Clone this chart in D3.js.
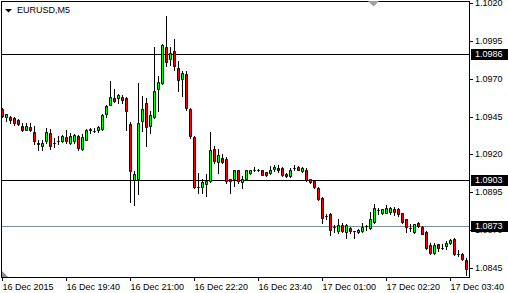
<!DOCTYPE html>
<html>
<head>
<meta charset="utf-8">
<script src="https://cdn.jsdelivr.net/npm/d3@7"></script>
<style>
  html, body { margin: 0; padding: 0; background: #fff; }
  svg { display: block; }
</style>
</head>
<body>
<div id="chart"></div>
<script>
// EURUSD M5 candles, 16 Dec 2015 18:20 .. 17 Dec 2015 04:00
const symbol = "EURUSD,M5";

const opens = [
  1.09502, 1.09447, 1.09449, 1.09443, 1.09425, 1.09390, 1.09364, 1.09384, 1.09349, 1.09276,
  1.09254, 1.09287, 1.09342, 1.09275, 1.09288, 1.09289, 1.09313, 1.09274, 1.09287, 1.09324,
  1.09234, 1.09298, 1.09364, 1.09357, 1.09359, 1.09368, 1.09465, 1.09528, 1.09573, 1.09570,
  1.09581, 1.09573, 1.09403, 1.09030, 1.09035, 1.09418, 1.09540, 1.09386, 1.09446, 1.09632,
  1.09671, 1.09908, 1.09829, 1.09884, 1.09770, 1.09698, 1.09733, 1.09502, 1.09313, 1.08983,
  1.08983, 1.09008, 1.09023, 1.09237, 1.09149, 1.09178, 1.09173, 1.09039, 1.09035, 1.09098,
  1.09019, 1.09041, 1.09079, 1.09100, 1.09097, 1.09096, 1.09083, 1.09079, 1.09107, 1.09112,
  1.09112, 1.09069, 1.09056, 1.09110, 1.09118, 1.09089, 1.09100, 1.09037, 1.09023, 1.08980,
  1.08910, 1.08794, 1.08809, 1.08721, 1.08694, 1.08732, 1.08689, 1.08717, 1.08692, 1.08686,
  1.08694, 1.08728, 1.08717, 1.08756, 1.08834, 1.08811, 1.08815, 1.08822, 1.08842, 1.08837,
  1.08811, 1.08771, 1.08713, 1.08690, 1.08750, 1.08721, 1.08690, 1.08600, 1.08547, 1.08607,
  1.08584, 1.08592, 1.08618, 1.08640, 1.08544, 1.08541, 1.08503
];
const highs = [
  1.09509, 1.09469, 1.09456, 1.09449, 1.09434, 1.09405, 1.09408, 1.09408, 1.09390, 1.09298,
  1.09298, 1.09372, 1.09370, 1.09311, 1.09320, 1.09326, 1.09364, 1.09342, 1.09335, 1.09331,
  1.09333, 1.09368, 1.09372, 1.09372, 1.09390, 1.09469, 1.09528, 1.09682, 1.09634, 1.09596,
  1.09594, 1.09578, 1.09412, 1.09089, 1.09675, 1.09588, 1.09575, 1.09484, 1.09912, 1.09715,
  1.09928, 1.10114, 1.09912, 1.09963, 1.09814, 1.09748, 1.09754, 1.09509, 1.09322, 1.09079,
  1.09041, 1.09068, 1.09346, 1.09254, 1.09237, 1.09204, 1.09180, 1.09041, 1.09100, 1.09100,
  1.09056, 1.09100, 1.09100, 1.09114, 1.09105, 1.09098, 1.09085, 1.09122, 1.09133, 1.09133,
  1.09114, 1.09079, 1.09112, 1.09129, 1.09122, 1.09116, 1.09112, 1.09041, 1.09028, 1.08987,
  1.08921, 1.08809, 1.08814, 1.08732, 1.08771, 1.08750, 1.08738, 1.08721, 1.08694, 1.08705,
  1.08750, 1.08734, 1.08819, 1.08870, 1.08848, 1.08842, 1.08863, 1.08855, 1.08855, 1.08844,
  1.08815, 1.08776, 1.08738, 1.08743, 1.08756, 1.08727, 1.08694, 1.08618, 1.08618, 1.08611,
  1.08607, 1.08628, 1.08640, 1.08646, 1.08567, 1.08547, 1.08519
];
const lows = [
  1.09449, 1.09418, 1.09410, 1.09395, 1.09395, 1.09357, 1.09359, 1.09357, 1.09270, 1.09232,
  1.09228, 1.09276, 1.09237, 1.09250, 1.09272, 1.09280, 1.09276, 1.09272, 1.09276, 1.09232,
  1.09230, 1.09293, 1.09339, 1.09346, 1.09351, 1.09364, 1.09447, 1.09527, 1.09546, 1.09540,
  1.09540, 1.09364, 1.08883, 1.08865, 1.08936, 1.09357, 1.09254, 1.09342, 1.09440, 1.09484,
  1.09667, 1.09781, 1.09792, 1.09759, 1.09616, 1.09583, 1.09496, 1.09309, 1.08979, 1.08942,
  1.08942, 1.08925, 1.09017, 1.09145, 1.09079, 1.09145, 1.09013, 1.08947, 1.08990, 1.09013,
  1.08980, 1.09035, 1.09068, 1.09092, 1.09089, 1.09061, 1.09056, 1.09068, 1.09089, 1.09087,
  1.09056, 1.09052, 1.09050, 1.09096, 1.09094, 1.09083, 1.09023, 1.09013, 1.08980, 1.08898,
  1.08745, 1.08776, 1.08668, 1.08690, 1.08684, 1.08688, 1.08651, 1.08684, 1.08651, 1.08679,
  1.08690, 1.08699, 1.08710, 1.08750, 1.08804, 1.08804, 1.08811, 1.08804, 1.08798, 1.08793,
  1.08750, 1.08688, 1.08694, 1.08684, 1.08723, 1.08672, 1.08574, 1.08541, 1.08541, 1.08563,
  1.08574, 1.08578, 1.08607, 1.08536, 1.08530, 1.08503, 1.08403
];
const closes = [
  1.09456, 1.09465, 1.09430, 1.09405, 1.09399, 1.09362, 1.09390, 1.09359, 1.09289, 1.09267,
  1.09278, 1.09349, 1.09254, 1.09275, 1.09288, 1.09322, 1.09287, 1.09324, 1.09326, 1.09245,
  1.09313, 1.09362, 1.09368, 1.09357, 1.09382, 1.09463, 1.09522, 1.09581, 1.09555, 1.09592,
  1.09557, 1.09487, 1.09089, 1.09068, 1.09408, 1.09502, 1.09384, 1.09463, 1.09617, 1.09680,
  1.09923, 1.09812, 1.09869, 1.09781, 1.09693, 1.09737, 1.09505, 1.09320, 1.08985, 1.08983,
  1.09018, 1.09023, 1.09232, 1.09155, 1.09193, 1.09151, 1.09023, 1.09023, 1.09094, 1.09023,
  1.09041, 1.09094, 1.09096, 1.09100, 1.09097, 1.09063, 1.09063, 1.09100, 1.09118, 1.09094,
  1.09063, 1.09056, 1.09100, 1.09110, 1.09096, 1.09112, 1.09028, 1.09017, 1.08987, 1.08903,
  1.08778, 1.08794, 1.08699, 1.08721, 1.08734, 1.08694, 1.08732, 1.08694, 1.08692, 1.08702,
  1.08721, 1.08728, 1.08771, 1.08848, 1.08834, 1.08837, 1.08848, 1.08848, 1.08819, 1.08804,
  1.08753, 1.08721, 1.08713, 1.08738, 1.08727, 1.08677, 1.08585, 1.08552, 1.08600, 1.08585,
  1.08584, 1.08613, 1.08633, 1.08541, 1.08544, 1.08508, 1.08442
];

const priceTicks = [1.1020, 1.0995, 1.0970, 1.0945, 1.0920, 1.0895, 1.0870, 1.0845];
const timeTickLabels = ["16 Dec 2015", "16 Dec 19:40", "16 Dec 21:00", "16 Dec 22:20",
                        "16 Dec 23:40", "17 Dec 01:00", "17 Dec 02:20", "17 Dec 03:40"];
const levels = [1.0986, 1.0903, 1.0873];

const levelColors = ["#000000", "#000000", "#7b8c9c"];
const upColor = "#00ff00", downColor = "#ff0000";
const font = "'Liberation Sans', Arial, sans-serif";

const W = 508, H = 293;
const plotRight = 469, plotBottom = 278;

const start = new Date(2015, 11, 16, 18, 20);
const times = d3.timeMinute.every(5).range(start, d3.timeMinute.offset(start, 5 * opens.length));
const tickTimes = times.filter((d, i) => i % 16 === 0);

const bars = times.map((t, i) => ({t: t, o: opens[i], h: highs[i], l: lows[i], c: closes[i]}));

const svg = d3.select("#chart").append("svg")
    .attr("width", W)
    .attr("height", H);

svg.append("rect").attr("width", W).attr("height", H).attr("fill", "#fff");

const x = d3.scaleBand().domain(times).range([0, plotRight - 1]);
const y = d3.scaleLinear().domain([1.0845, 1.1020]).range([268, 3]);
const cx = d => x(d) + x.bandwidth() / 2 + 0.5;
const py = v => Math.round(y(v)) + 0.5;

// level lines
svg.append("g").selectAll("line")
    .data(levels)
    .enter().append("line")
    .attr("x1", 2).attr("x2", plotRight)
    .attr("y1", d => py(d)).attr("y2", d => py(d))
    .attr("stroke", (d, i) => levelColors[i])
    .attr("stroke-width", 1);

// candles
const candle = svg.append("g").selectAll("g")
    .data(bars)
    .enter().append("g");

candle.append("line")
    .attr("x1", d => cx(d.t)).attr("x2", d => cx(d.t))
    .attr("y1", d => Math.round(y(d.h)))
    .attr("y2", d => Math.round(y(d.l)) + 1)
    .attr("stroke", "#000")
    .attr("stroke-width", 1);

candle.append("path")
    .attr("d", d => {
        const top = py(Math.max(d.o, d.c)), bot = py(Math.min(d.o, d.c));
        const c = cx(d.t);
        return "M" + (c - 1) + "," + top + "H" + (c + 1) + "V" + bot + "H" + (c - 1) + "Z";
    })
    .attr("fill", d => d.c >= d.o ? upColor : downColor)
    .attr("stroke", "#000")
    .attr("stroke-width", 1);

// frame
const frame = svg.append("g").attr("stroke", "#000").attr("stroke-width", 1);
frame.append("line").attr("x1", 1.5).attr("x2", 1.5).attr("y1", 1).attr("y2", plotBottom);
frame.append("line").attr("x1", 1).attr("x2", plotRight + 1).attr("y1", 1.5).attr("y2", 1.5);
frame.append("line").attr("x1", 1).attr("x2", plotRight + 1).attr("y1", plotBottom - 0.5).attr("y2", plotBottom - 0.5);
frame.append("line").attr("x1", plotRight + 0.5).attr("x2", plotRight + 0.5).attr("y1", 1).attr("y2", plotBottom);

// x axis
svg.append("g")
    .attr("transform", "translate(0," + plotBottom + ")")
    .call(d3.axisBottom(x).tickValues(tickTimes).tickFormat((d, i) => timeTickLabels[i]).tickSize(3).tickSizeOuter(0))
    .call(g => g.select(".domain").remove())
    .call(g => g.selectAll(".tick").attr("transform", d => "translate(" + cx(d) + ",0)"))
    .call(g => g.selectAll(".tick text").attr("text-anchor", "start").attr("x", 0).attr("y", 12).attr("dy", null))
    .attr("font-size", 9)
    .attr("font-family", font);

// y axis
svg.append("g")
    .attr("transform", "translate(" + plotRight + ",0)")
    .call(d3.axisRight(y).tickValues(priceTicks).tickFormat(d3.format(".4f")).tickSize(4).tickPadding(2).tickSizeOuter(0))
    .call(g => g.select(".domain").remove())
    .call(g => g.selectAll(".tick").attr("transform", d => "translate(0," + py(d) + ")"))
    .attr("font-size", 9)
    .attr("font-family", font);

// level price tags
const tag = svg.append("g").selectAll("g")
    .data(levels)
    .enter().append("g")
    .attr("transform", d => "translate(0," + (py(d) - 0.5) + ")");

tag.append("rect")
    .attr("x", plotRight + 2).attr("y", -5)
    .attr("width", W - plotRight - 2).attr("height", 11)
    .attr("fill", "#000");

tag.append("text")
    .attr("x", plotRight + 6).attr("y", 0.5)
    .attr("dy", "0.32em")
    .attr("fill", "#fff")
    .attr("font-size", 9)
    .attr("font-family", font)
    .text(d3.format(".4f"));

// title
svg.append("path").attr("d", "M5,9H12L8.5,12.5Z").attr("fill", "#000");
svg.append("text")
    .attr("x", 17).attr("y", 13)
    .attr("font-size", 9)
    .attr("font-family", font)
    .attr("fill", "#000")
    .text(symbol);

// chart shift / scale markers
svg.append("path").attr("d", "M368,1H379L373.5,6.5Z").attr("fill", "#a0a0a0");
svg.append("path").attr("d", "M2,271V277H8Z").attr("fill", "#8c8c8c");
</script>
</body>
</html>
